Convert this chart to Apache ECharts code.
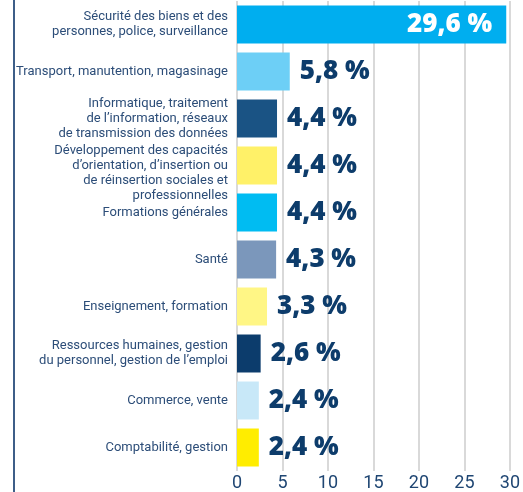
<!DOCTYPE html>
<html><head><meta charset="utf-8">
<script src="https://cdn.jsdelivr.net/npm/echarts@6/dist/echarts.min.js"></script>
<style>html,body{margin:0;padding:0;background:#fff}#c{width:523px;height:492px}</style>
</head><body><div id="c"></div>
<script>
const categories = [
  "Sécurité des biens et des\npersonnes, police, surveillance",
  "Transport, manutention, magasinage",
  "Informatique, traitement\nde l’information, réseaux\nde transmission des données",
  "Développement des capacités\nd’orientation, d’insertion ou\nde réinsertion sociales et\nprofessionnelles",
  "Formations générales",
  "Santé",
  "Enseignement, formation",
  "Ressources humaines, gestion\ndu personnel, gestion de l’emploi",
  "Commerce, vente",
  "Comptabilité, gestion"
];
const values = [29.6, 5.8, 4.4, 4.4, 4.4, 4.3, 3.3, 2.6, 2.4, 2.4];
const barColors = ["#00aeef","#6dcff6","#1a5384","#fff168","#00bcf2","#7b97bb","#fff685","#0c3c6c","#c8e8f8","#ffed00"];
const xTicks = [0, 5, 10, 15, 20, 25, 30];

const chart = echarts.init(document.getElementById('c'));
chart.setOption({
  animation: false,
  graphic: [{type:'line', shape:{x1:14,y1:0,x2:14,y2:492}, style:{stroke:'#3d5e88', lineWidth:2}}],
  grid: {left: 237, right: 10, top: 1, bottom: 17},
  xAxis: {
    type: 'value', min: xTicks[0], max: xTicks[xTicks.length-1], interval: 5,
    axisLine: {show: false}, axisTick: {show: false},
    splitLine: {show: true, lineStyle: {color: '#d9d9d9', width: 2}},
    axisLabel: {color: '#1f4673', fontSize: 18, fontFamily: 'Roboto', margin: 3}
  },
  yAxis: {
    type: 'category', inverse: true, data: categories,
    axisLine: {show: false}, axisTick: {show: false},
    axisLabel: {
      color: '#2c4d78', fontSize: 13, lineHeight: 15, fontFamily: 'Roboto', margin: 9, align: 'right',
      formatter: (v, i) => (i === 3 ? '\n' + v : v)
    }
  },
  series: [{
    type: 'bar', barWidth: 38,
    data: values.map((v, i) => ({
      value: v,
      itemStyle: {color: barColors[i]},
      label: i === 0 ? {position: 'insideRight', distance: 14, color: '#ffffff'} : {}
    })),
    label: {
      show: true, position: 'right', distance: 10,
      color: '#0d3c6b', fontSize: 26, fontWeight: 800, fontFamily: 'Open Sans',
      formatter: p => String(p.value).replace('.', ',') + ' %'
    }
  }]
});
</script></body></html>
